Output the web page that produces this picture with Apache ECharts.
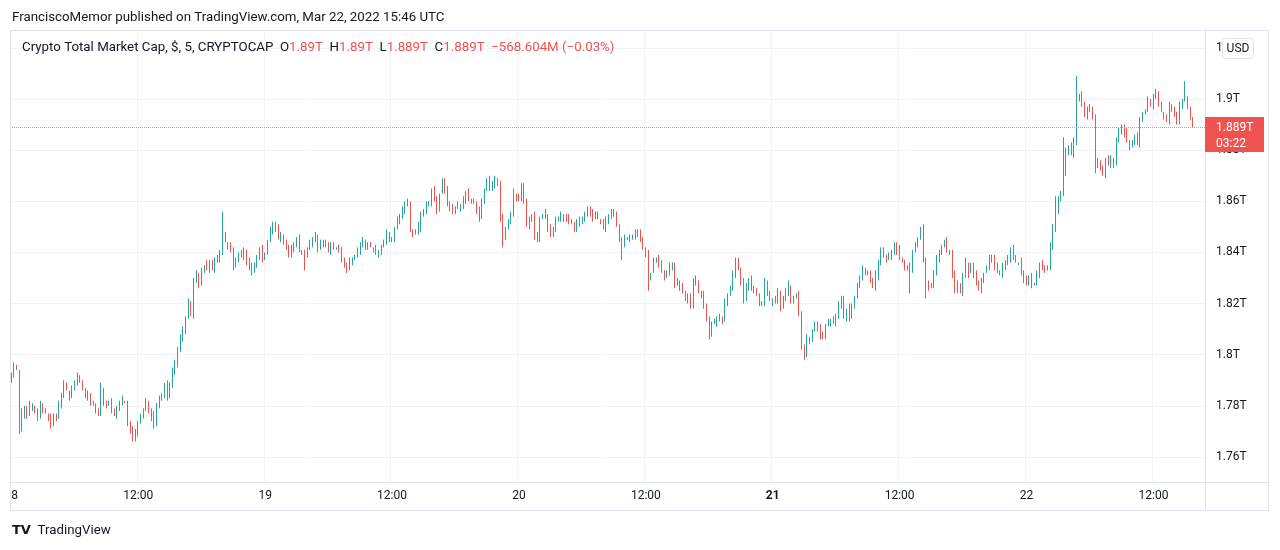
<!DOCTYPE html>
<html><head><meta charset="utf-8">
<script src="https://cdn.jsdelivr.net/npm/echarts@6/dist/echarts.min.js"></script>
<style>html,body{margin:0;padding:0;background:#fff}#c{width:1280px;height:550px}</style>
</head><body><div id="c"></div>
<script>
// ---- data (values in billions USD; 15-minute candles from 18 Mar 2022 00:00 UTC) ----
const startTime = Date.UTC(2022, 2, 18, 0, 0);
const stepMin = 15;
const padBars = 4;
const tickLabels = ['18', '12:00', '19', '12:00', '20', '12:00', '21', '12:00', '22', '12:00'];
const yTicks = [1760, 1780, 1800, 1820, 1840, 1860, 1880, 1900, 1920];
const firstOpen = 1790;
const closes = [
1792,1795,1794,1771,1777,1779,1776,1779,1780,1778,1776,1780,1778,1777,1775,1773,1776,1775,1780,1784,
1788,1786,1784,1787,1789,1791,1789,1787,1785,1783,1781,1780,1778,1777,1786,1782,1780,1781,1778,1777,
1779,1781,1782,1781,1773,1770,1767,1770,1773,1776,1779,1781,1778,1776,1772,1780,1783,1785,1788,1783,
1788,1793,1797,1802,1806,1810,1815,1820,1815,1829,1831,1828,1833,1835,1833,1836,1834,1837,1837,1840,
1847,1844,1842,1841,1835,1837,1839,1838,1841,1837,1834,1832,1835,1838,1841,1838,1840,1844,1848,1851,
1849,1846,1847,1844,1841,1839,1842,1843,1845,1841,1840,1839,1841,1843,1845,1847,1842,1843,1844,1842,
1841,1843,1842,1842,1840,1837,1835,1834,1836,1837,1839,1841,1843,1844,1842,1843,1842,1841,1840,1840,
1842,1844,1847,1846,1845,1849,1852,1854,1857,1859,1859,1849,1847,1848,1850,1855,1856,1858,1859,1864,
1861,1857,1863,1868,1864,1859,1858,1856,1858,1857,1858,1861,1863,1861,1860,1859,1856,1854,1860,1864,
1868,1865,1867,1869,1867,1853,1846,1849,1852,1855,1863,1862,1861,1866,1859,1851,1853,1855,1846,1845,
1853,1854,1855,1850,1847,1849,1852,1853,1855,1854,1853,1852,1851,1849,1853,1852,1852,1855,1857,1855,
1854,1855,1853,1852,1850,1852,1854,1856,1854,1851,1845,1843,1845,1845,1846,1847,1848,1847,1845,1841,
1839,1830,1832,1837,1837,1836,1833,1830,1832,1834,1835,1828,1829,1826,1824,1822,1823,1819,1829,1828,
1824,1823,1820,1814,1808,1812,1812,1814,1815,1814,1820,1823,1826,1831,1837,1834,1829,1821,1826,1829,
1826,1825,1823,1821,1820,1828,1824,1821,1822,1821,1824,1818,1822,1825,1827,1821,1822,1823,1816,1803,
1800,1806,1805,1810,1812,1810,1808,1807,1811,1812,1814,1813,1815,1819,1822,1814,1818,1815,1819,1822,
1827,1830,1833,1833,1832,1829,1826,1831,1836,1841,1839,1837,1838,1840,1843,1841,1838,1836,1834,1834,
1833,1840,1843,1846,1849,1837,1828,1826,1827,1833,1837,1840,1842,1844,1841,1840,1832,1825,1827,1824,
1831,1836,1832,1835,1831,1828,1826,1829,1832,1834,1837,1838,1835,1833,1831,1834,1836,1838,1841,1838,
1836,1836,1832,1830,1828,1830,1827,1828,1832,1835,1834,1833,1834,1842,1850,1856,1860,1863,1871,1879,
1881,1878,1884,1900,1901,1898,1893,1896,1896,1894,1876,1874,1873,1870,1876,1875,1877,1874,1884,1887,
1889,1887,1884,1881,1883,1885,1883,1892,1894,1896,1899,1898,1901,1902,1898,1895,1893,1892,1897,1896,
1893,1891,1898,1900,1900,1896,1893,1889
];
const wickUp = [
1,2,1,0,2,1,1,3,1,0,1,2,1,1,0,2,1,1,2,1,
2,1,0,1,1,2,1,1,0,1,2,1,1,1,3,1,0,1,2,1,
1,1,2,0,1,1,2,1,1,1,0,2,1,1,2,1,1,0,1,2,
1,2,1,1,2,1,0,2,1,1,2,1,1,0,2,1,1,1,2,1,
9,1,0,2,1,1,1,2,1,0,1,2,1,1,1,2,0,1,2,1,
1,2,1,0,1,2,1,1,1,2,0,1,1,2,1,1,0,2,1,1,
2,1,1,0,1,2,1,1,2,1,0,1,1,2,1,1,1,0,2,1,
1,1,2,1,0,1,2,1,1,1,2,1,0,1,2,1,1,2,1,1,
2,1,0,1,1,2,1,1,0,2,1,1,1,2,0,1,1,2,1,1,
1,2,1,1,0,1,2,1,1,1,2,0,1,1,1,2,1,0,1,2,
1,1,2,0,1,1,2,1,1,0,1,2,1,1,0,1,2,1,1,1,
2,1,1,0,1,2,1,1,1,2,0,1,2,1,1,0,1,1,2,1,
1,2,0,1,1,2,1,0,1,2,1,1,1,0,2,1,1,1,1,2,
1,1,2,0,1,1,2,1,1,0,2,1,1,2,1,1,0,1,2,1,
2,1,1,1,0,2,1,1,0,1,2,1,1,1,2,0,1,1,2,1,
1,2,1,0,1,1,2,1,1,2,0,1,1,2,1,1,0,2,1,1,
1,1,2,1,0,1,1,2,1,1,1,0,2,1,1,1,2,0,1,1,
2,1,1,0,1,2,1,1,1,0,2,1,1,1,2,0,1,1,2,1,
1,2,0,1,1,2,1,1,0,1,2,1,1,1,0,2,1,1,1,2,
1,0,2,1,1,1,2,0,1,1,2,1,1,2,1,6,2,1,14,2,
1,2,1,9,1,2,1,1,2,1,0,1,2,1,1,2,1,0,1,2,
1,1,2,0,1,1,2,1,1,0,2,1,1,2,1,1,0,1,2,1,
1,2,1,0,7,1,1,0
];
const wickDown = [
1,1,0,2,1,2,1,0,1,1,2,1,1,0,1,2,1,1,0,1,
1,0,2,1,1,1,0,1,2,1,1,0,1,1,1,2,1,0,1,1,
2,1,1,0,1,1,1,1,2,0,1,1,1,2,1,0,1,1,2,1,
0,1,1,2,1,1,2,1,0,1,1,2,1,1,0,1,1,2,1,1,
1,0,1,1,2,1,1,0,1,2,1,1,0,1,1,2,1,1,0,1,
1,1,2,1,0,1,1,2,1,1,1,6,1,0,1,1,2,1,1,0,
1,2,1,1,0,1,1,2,1,1,0,1,2,1,1,1,0,1,1,2,
1,0,1,2,1,1,0,1,1,2,1,1,1,0,1,2,1,1,0,1,
1,2,1,0,1,1,2,1,1,0,1,1,2,1,1,0,1,2,1,1,
0,1,1,2,1,1,4,1,0,1,1,2,1,1,0,1,2,1,1,1,
1,0,1,2,1,1,1,0,1,2,1,1,0,1,1,2,1,0,1,1,
2,1,0,1,1,2,1,1,0,1,1,6,1,0,1,1,2,1,1,0,
1,5,1,0,1,2,1,1,0,1,1,2,1,1,0,1,2,1,1,1,
0,1,2,1,2,1,0,1,1,2,1,1,0,1,1,1,2,1,0,1,
1,1,0,2,1,1,1,0,2,1,1,1,0,1,2,1,1,0,1,1,
2,1,1,0,1,1,2,1,1,0,1,1,2,1,1,0,1,2,1,1,
0,1,1,2,1,1,0,1,2,1,1,1,0,1,1,2,1,0,1,1,
9,1,0,1,1,1,6,1,0,1,2,1,1,0,1,1,2,1,1,0,
1,1,2,0,1,1,1,2,1,0,1,1,2,1,0,1,1,1,2,1,
0,1,1,2,1,1,1,0,1,2,1,1,0,1,1,2,1,0,1,1,
1,0,1,2,1,1,0,1,1,2,5,1,1,0,1,1,2,1,0,1,
1,2,1,1,0,1,1,2,1,0,1,1,2,1,1,0,1,1,2,1,
0,1,1,2,1,0,1,0
];
const lastPrice = 1889;
const countdown = '03:22';

// ---- build library inputs ----
const categories = [];
for (let i = 0; i < closes.length + padBars; i++) {
  const d = new Date(startTime + i * stepMin * 60000);
  categories.push(d.toISOString().slice(0, 16).replace('T', ' '));
}
const ohlc = closes.map((c, i) => {
  const o = i === 0 ? firstOpen : closes[i - 1];
  return [o, c, Math.min(o, c) - (wickDown[i] || 0), Math.max(o, c) + (wickUp[i] || 0)];
});
const barsPerLabel = 48;
const fmtT = v => (v / 1000) + 'T';

const FONT = 'Roboto, "Noto Sans", "DejaVu Sans", sans-serif';
const TXT = '#131722';
const RED = '#ef5350';
const GREEN = '#26a69a';
const GRID = '#f0f3fa';
const BORDER = '#e0e3eb';
const HF = 13.3;

const chart = echarts.init(document.getElementById('c'), null, { renderer: 'canvas' });
chart.setOption({
  backgroundColor: '#ffffff',
  animation: false,
  textStyle: { fontFamily: FONT },
  title: [
    { text: 'FranciscoMemor published on TradingView.com, Mar 22, 2022 15:46 UTC', left: 12, top: 11, padding: 0,
      textStyle: { fontFamily: FONT, fontSize: HF, fontWeight: 'normal', color: TXT } },
    { text: 'Crypto Total Market Cap, $, 5, CRYPTOCAP  O{r|1.89T}  H{r|1.89T}  L{r|1.889T}  C{r|1.889T}  {r|\u2212568.604M (\u22120.03%)}',
      left: 22, top: 41, padding: 0,
      textStyle: { fontFamily: FONT, fontSize: HF, fontWeight: 'normal', color: TXT,
        rich: { r: { fontFamily: FONT, fontSize: HF, color: RED } } } },
    { text: '{logo|TV}  TradingView', left: 12, top: 524, padding: 0,
      textStyle: { fontFamily: FONT, fontSize: HF, fontWeight: 'normal', color: TXT,
        rich: { logo: { fontFamily: '"DejaVu Sans"', fontSize: 13, fontWeight: 'bold', color: TXT } } } }
  ],
  grid: { left: 10, right: 75, top: 30, bottom: 68, containLabel: false },
  xAxis: {
    type: 'category', data: categories, boundaryGap: true,
    axisLine: { show: true, lineStyle: { color: BORDER } },
    axisTick: { show: false },
    axisLabel: {
      interval: barsPerLabel - 1, color: TXT, fontSize: 12, margin: 8, fontFamily: FONT,
      formatter: (v, i) => {
        const t = tickLabels[Math.round(i / barsPerLabel)] || '';
        return t === '21' ? '{b|21}' : t;
      },
      rich: { b: { fontWeight: 'bold', fontSize: 12, color: TXT, fontFamily: FONT } }
    },
    splitLine: { show: true, interval: barsPerLabel - 1, lineStyle: { color: GRID } }
  },
  yAxis: {
    type: 'value', position: 'right', min: 1750.2, max: 1927,
    axisLine: { show: true, lineStyle: { color: BORDER } },
    axisTick: { show: false, customValues: yTicks },
    axisLabel: { customValues: yTicks, formatter: fmtT, color: TXT, fontSize: 12, margin: 11, fontFamily: FONT },
    splitLine: { show: true, lineStyle: { color: GRID } }
  },
  series: [{
    type: 'candlestick', data: ohlc, barWidth: 1.3,
    itemStyle: { color: GREEN, color0: RED, borderColor: GREEN, borderColor0: RED, borderWidth: 1 }
  }]
});

const py = Math.round(chart.convertToPixel({ yAxisIndex: 0 }, lastPrice));
chart.setOption({
  graphic: [
    { type: 'line', silent: true, z: 50, shape: { x1: 10, y1: py + 0.5, x2: 1205, y2: py + 0.5 }, style: { stroke: '#f28b8a', lineWidth: 1, lineDash: [1, 1] } },
    { type: 'rect', silent: true, z: 100, shape: { x: 0, y: 483, width: 10, height: 26 }, style: { fill: '#fff' } },
    { type: 'rect', silent: true, z: 101, shape: { x: 10.5, y: 30.5, width: 1258, height: 480 }, style: { fill: 'none', stroke: BORDER, lineWidth: 1 } },
    { type: 'line', silent: true, z: 101, shape: { x1: 1205, y1: 482.5, x2: 1268, y2: 482.5 }, style: { stroke: BORDER, lineWidth: 1 } },
    { type: 'line', silent: true, z: 101, shape: { x1: 1205.5, y1: 482, x2: 1205.5, y2: 510 }, style: { stroke: BORDER, lineWidth: 1 } },
    { type: 'rect', silent: true, z: 102, shape: { x: 1222.5, y: 38.5, width: 31, height: 20, r: 3 }, style: { fill: '#fff', stroke: BORDER, lineWidth: 1 } },
    { type: 'text', silent: true, z: 103, x: 1238, y: 48.5, style: { text: 'USD', fill: TXT, font: '12px ' + FONT, align: 'center', verticalAlign: 'middle' } },
    { type: 'rect', silent: true, z: 102, shape: { x: 1205, y: py - 10, width: 59, height: 35 }, style: { fill: RED } },
    { type: 'text', silent: true, z: 103, x: 1216, y: py + 0.5, style: { text: fmtT(lastPrice), fill: '#fff', font: '12px ' + FONT, align: 'left', verticalAlign: 'middle' } },
    { type: 'text', silent: true, z: 103, x: 1216, y: py + 16.5, style: { text: countdown, fill: '#fff', font: '12px ' + FONT, align: 'left', verticalAlign: 'middle' } }
  ]
});
</script>
</body></html>
